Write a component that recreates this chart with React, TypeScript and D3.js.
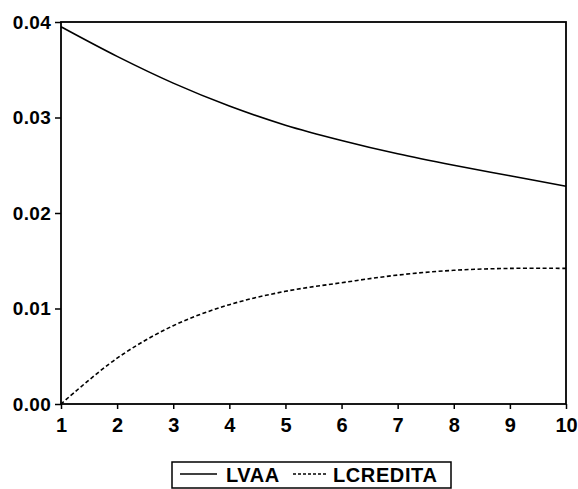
import React, { useEffect, useRef } from 'react';
import * as d3 from 'd3';

const periods = [1, 2, 3, 4, 5, 6, 7, 8, 9, 10];
const lvaa = [0.0395, 0.0364, 0.0336, 0.0312, 0.0292, 0.0276, 0.0262, 0.025, 0.0239, 0.0228];
const lcredita = [0.0, 0.0048, 0.0082, 0.0104, 0.0118, 0.0127, 0.0135, 0.014, 0.0142, 0.0142];
const yTicks = [0, 0.01, 0.02, 0.03, 0.04];
const seriesNames = ['LVAA', 'LCREDITA'];

const App: React.FC = () => {
  const svgRef = useRef<SVGSVGElement>(null);

  useEffect(() => {
    if (!svgRef.current) return;
    const svg = d3.select(svgRef.current);
    svg.selectAll('*').remove();

    const left = 61, right = 566, top = 22, bottom = 404;
    const font = "'Liberation Sans', Arial, sans-serif";

    const x = d3.scaleLinear().domain([1, 10]).range([left, right]);
    const y = d3.scaleLinear().domain([0, 0.04]).range([bottom, top]);

    // frame
    svg.append('rect')
      .attr('x', left).attr('y', top)
      .attr('width', right - left).attr('height', bottom - top)
      .attr('fill', 'none').attr('stroke', '#000').attr('stroke-width', 1.8);

    // y axis
    const yAxis = svg.append('g')
      .attr('transform', `translate(${left},0)`)
      .call(d3.axisLeft(y).tickValues(yTicks).tickSize(6).tickPadding(4).tickFormat(d3.format('.2f')));
    yAxis.select('.domain').remove();
    yAxis.selectAll('line').attr('stroke-width', 1.5);
    yAxis.selectAll('text')
      .attr('font-family', font).attr('font-size', 19).attr('font-weight', 'bold')
      .attr('letter-spacing', 0.3).attr('fill', '#000');

    // x axis
    const xAxis = svg.append('g')
      .attr('transform', `translate(0,${bottom})`)
      .call(d3.axisBottom(x).tickValues(periods).tickSize(5).tickPadding(9).tickFormat(d3.format('d')));
    xAxis.select('.domain').remove();
    xAxis.selectAll('line').attr('stroke-width', 1.5);
    xAxis.selectAll('text')
      .attr('font-family', font).attr('font-size', 20).attr('font-weight', 'bold').attr('fill', '#000');

    const line = d3.line<number>()
      .x((_, i) => x(periods[i]))
      .y(d => y(d))
      .curve(d3.curveCatmullRom);

    svg.append('path').datum(lvaa)
      .attr('d', line).attr('fill', 'none').attr('stroke', '#000').attr('stroke-width', 1.6);
    svg.append('path').datum(lcredita)
      .attr('d', line).attr('fill', 'none').attr('stroke', '#000').attr('stroke-width', 1.6)
      .attr('stroke-dasharray', '4,2.5');

    // legend
    const lg = svg.append('g');
    lg.append('rect')
      .attr('x', 172).attr('y', 462).attr('width', 279).attr('height', 26)
      .attr('fill', 'none').attr('stroke', '#000').attr('stroke-width', 1.5);
    const items = [
      { name: seriesNames[0], x0: 180, x1: 217, tx: 226, dash: null as string | null },
      { name: seriesNames[1], x0: 293, x1: 326, tx: 333, dash: '3,2' },
    ];
    items.forEach(it => {
      lg.append('line')
        .attr('x1', it.x0).attr('x2', it.x1).attr('y1', 474).attr('y2', 474)
        .attr('stroke', '#000').attr('stroke-width', 1.3)
        .attr('stroke-dasharray', it.dash);
      lg.append('text')
        .attr('x', it.tx).attr('y', 482)
        .attr('font-family', font).attr('font-size', 20).attr('font-weight', 'bold')
        .attr('letter-spacing', 0.6)
        .attr('fill', '#000')
        .text(it.name);
    });
  }, []);

  return (
    <svg
      ref={svgRef}
      width={578}
      height={489}
      style={{ position: 'absolute', left: 0, top: 0, background: '#fff' }}
    />
  );
};

export default App;
